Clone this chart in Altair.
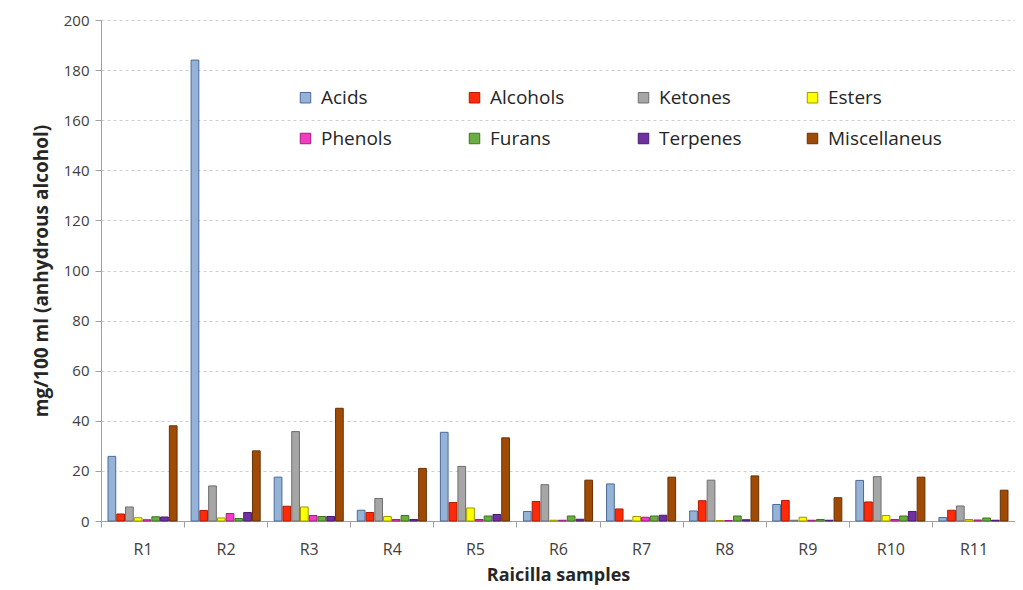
import altair as alt
import pandas as pd

samples = ["R1", "R2", "R3", "R4", "R5", "R6", "R7", "R8", "R9", "R10", "R11"]
categories = ["Acids", "Alcohols", "Ketones", "Esters", "Phenols", "Furans", "Terpenes", "Miscellaneus"]

acids = [25.8, 184.0, 17.5, 4.3, 35.4, 3.8, 14.8, 4.0, 6.6, 16.2, 1.4]
alcohols = [2.8, 4.2, 5.9, 3.4, 7.4, 7.8, 4.8, 8.1, 8.2, 7.6, 4.3]
ketones = [5.6, 14.0, 35.7, 9.0, 21.8, 14.5, 0.3, 16.3, 0.3, 17.7, 6.0]
esters = [1.3, 1.2, 5.6, 1.8, 5.2, 0.3, 1.8, 0.2, 1.5, 2.2, 0.6]
phenols = [0.5, 3.0, 2.2, 0.6, 0.6, 0.3, 1.5, 0.2, 0.3, 0.6, 0.4]
furans = [1.7, 1.0, 1.8, 2.2, 2.0, 2.0, 2.0, 2.0, 0.6, 2.0, 1.2]
terpenes = [1.6, 3.4, 1.8, 0.6, 2.6, 0.7, 2.3, 0.5, 0.3, 3.8, 0.3]
miscellaneus = [38.0, 28.0, 45.0, 21.0, 33.2, 16.3, 17.5, 18.0, 9.3, 17.5, 12.3]

fill_colors = ["#95B3D7", "#FF2A0A", "#A6A6A6", "#FFFF00", "#F23CC4", "#6AAD40", "#7030A0", "#A04B05"]
stroke_colors = ["#4A6A9A", "#B01A00", "#6E6E6E", "#9A9A00", "#A0207A", "#3E7420", "#4A1A70", "#6A3000"]

series = [acids, alcohols, ketones, esters, phenols, furans, terpenes, miscellaneus]
rows = []
for cat, vals in zip(categories, series):
    for s, v in zip(samples, vals):
        rows.append({"sample": s, "group": cat, "value": v})
df = pd.DataFrame(rows)

FONT = "Open Sans"

chart = alt.Chart(df).mark_bar(strokeWidth=1).encode(
    x=alt.X(
        "sample:N",
        sort=samples,
        scale=alt.Scale(paddingInner=0, paddingOuter=0),
        axis=alt.Axis(
            title="Raicilla samples",
            labelAngle=0,
            tickBand="extent",
            tickSize=6,
            tickColor="#A0A0A0",
            domainColor="#A0A0A0",
            labelFont=FONT,
            labelFontSize=16,
            labelColor="#404040",
            labelPadding=14,
            titleFont=FONT,
            titleFontSize=18,
            titleFontWeight="bold",
            titleColor="#262626",
            titlePadding=9,
            grid=False,
        ),
    ),
    xOffset=alt.XOffset(
        "group:N",
        sort=categories,
        scale=alt.Scale(paddingInner=0.12, paddingOuter=0.8),
    ),
    y=alt.Y(
        "value:Q",
        scale=alt.Scale(domain=[0, 200]),
        axis=alt.Axis(
            title="mg/100 ml  (anhydrous alcohol)",
            values=list(range(0, 201, 20)),
            tickSize=6,
            tickColor="#A0A0A0",
            domainColor="#A0A0A0",
            gridColor="#D0D0D0",
            gridDash=[3, 3],
            labelFont=FONT,
            labelFontSize=15,
            labelColor="#404040",
            labelPadding=6,
            titleFont=FONT,
            titleFontSize=19,
            titleFontWeight="bold",
            titleColor="#262626",
            titlePadding=12,
        ),
    ),
    fill=alt.Fill(
        "group:N",
        sort=categories,
        scale=alt.Scale(domain=categories, range=fill_colors),
        legend=alt.Legend(
            title=None,
            orient="none",
            direction="horizontal",
            legendX=195,
            legendY=68,
            columns=4,
            gridAlign="all",
            columnPadding=30,
            rowPadding=21,
            symbolType="square",
            symbolSize=110,
            symbolStrokeColor="#555555",
            symbolStrokeWidth=1,
            labelFont=FONT,
            labelFontSize=19,
            labelColor="#262626",
            labelOffset=6,
            padding=0,
        ),
    ),
    stroke=alt.Stroke(
        "group:N",
        sort=categories,
        scale=alt.Scale(domain=categories, range=stroke_colors),
        legend=None,
    ),
).properties(
    width=914,
    height=501,
    padding={"left": 93, "top": 12, "right": 0, "bottom": 68},
    autosize=alt.AutoSizeParams(type="none"),
).configure_view(stroke=None)

chart.save("out.html", embed_options={"renderer": "svg", "actions": False})
